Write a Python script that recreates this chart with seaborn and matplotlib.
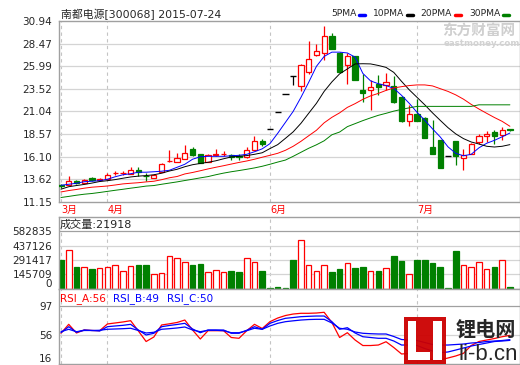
import numpy as np
import pandas as pd
import matplotlib
matplotlib.use("Agg")
import matplotlib.pyplot as plt
import seaborn as sns
from matplotlib.patches import Rectangle
from matplotlib.lines import Line2D

sns.set_style("white")
plt.rcParams["font.family"] = ["DejaVu Sans", "Noto Sans CJK SC"]

# ----------------------------------------------------------------------
# data (read off the daily K-line chart of 300068, Mar 24 - Jul 24 2015)
# ----------------------------------------------------------------------
open_ = [12.95, 12.99, 13.40, 13.21, 13.80, 13.55, 13.61, 14.25, 14.25, 14.23,
         14.67, 14.00, 13.80, 14.41, 15.58, 15.50, 15.83, 16.92, 16.40, 15.50,
         16.25, 16.38, 16.25, 16.20, 16.05, 16.85, 17.82, 19.10, 21.00, 22.95,
         24.87, 23.81, 25.34, 27.24, 27.42, 29.35, 27.46, 26.15, 27.06, 23.42,
         23.42, 24.07, 23.96, 23.78, 22.65, 19.98, 20.79, 20.36, 17.14, 17.87,
         16.20, 17.80, 15.98, 16.42, 17.73, 18.38, 18.75, 18.42, 19.08]
close = [12.85, 13.47, 13.25, 13.58, 13.50, 13.62, 14.12, 14.32, 14.32, 14.59,
         14.38, 13.92, 14.10, 15.33, 15.63, 15.90, 16.49, 16.23, 15.39, 16.23,
         16.32, 16.42, 16.10, 16.05, 16.85, 17.77, 17.45, 19.10, 21.00, 22.95,
         24.87, 26.15, 26.80, 27.61, 29.35, 27.86, 25.34, 27.06, 24.51, 23.09,
         23.70, 23.70, 24.25, 22.06, 19.95, 20.79, 19.98, 18.17, 16.42, 14.89,
         16.20, 16.12, 16.23, 17.51, 18.31, 18.60, 18.38, 18.97, 18.97]
high = [13.10, 13.94, 13.58, 13.69, 13.85, 13.80, 14.30, 14.52, 14.55, 14.96,
        14.90, 14.30, 14.23, 15.35, 16.86, 16.50, 17.33, 17.14, 16.40, 16.35,
        16.88, 16.70, 16.42, 16.35, 17.14, 18.31, 18.05, 19.10, 21.00, 22.95,
        24.87, 26.20, 28.70, 28.37, 30.34, 29.65, 27.50, 27.46, 27.15, 25.09,
        24.43, 25.06, 25.28, 24.87, 22.75, 21.70, 22.43, 20.40, 20.06, 17.90,
        16.20, 17.85, 16.97, 17.55, 18.60, 18.86, 18.97, 19.33, 19.15]
low = [12.60, 12.95, 13.06, 13.15, 13.45, 13.40, 13.58, 14.08, 14.10, 14.20,
       13.98, 13.40, 13.78, 14.38, 15.50, 15.45, 15.80, 16.15, 15.35, 15.45,
       16.15, 16.15, 15.70, 15.72, 15.98, 16.80, 17.22, 19.10, 21.00, 22.95,
       23.89, 23.27, 25.17, 27.15, 26.62, 27.86, 25.30, 24.07, 24.45, 22.06,
       21.23, 22.79, 23.34, 22.00, 19.90, 19.41, 19.95, 18.10, 16.40, 14.85,
       16.20, 15.14, 14.67, 16.40, 17.44, 17.69, 17.44, 17.87, 18.90]
volume = [294000, 391000, 226000, 223000, 197000, 214000, 223000, 243000, 185000, 233000,
          243000, 243000, 155000, 165000, 330000, 311000, 272000, 243000, 253000, 175000,
          194000, 175000, 185000, 175000, 311000, 272000, 185000, 12000, 22000, 12000,
          291000, 492000, 243000, 185000, 243000, 175000, 197000, 262000, 207000, 226000,
          185000, 185000, 214000, 330000, 285000, 152000, 294000, 294000, 265000, 226000,
          12000, 382000, 243000, 223000, 272000, 204000, 226000, 291000, 21918]

ma5 = [12.95, 13.06, 13.17, 13.34, 13.39, 13.45, 13.61, 13.88, 14.10, 14.21,
       14.38, 14.38, 14.43, 14.49, 14.59, 14.92, 15.25, 15.80, 16.07, 16.12,
       16.12, 16.12, 16.18, 16.23, 16.34, 16.62, 16.94, 17.51, 18.64, 19.84,
       21.04, 22.57, 24.22, 25.97, 27.06, 27.53, 27.53, 27.44, 26.98, 25.20,
       24.38, 24.07, 23.87, 23.56, 22.80, 21.92, 20.94, 20.07, 19.13, 18.24,
       17.16, 16.45, 16.18, 16.34, 17.05, 17.55, 17.87, 18.26, 18.67]
ma10 = [12.52, 12.79, 12.92, 13.04, 13.19, 13.36, 13.45, 13.57, 13.72, 13.86,
        13.95, 14.01, 14.10, 14.27, 14.51, 14.70, 14.98, 15.20, 15.34, 15.47,
        15.63, 15.85, 16.05, 16.12, 16.20, 16.34, 16.51, 16.97, 17.40, 18.09,
        18.80, 19.73, 20.83, 21.92, 23.23, 24.27, 25.15, 25.69, 26.24, 26.26,
        26.24, 26.07, 25.86, 25.31, 24.33, 23.40, 22.58, 21.76, 20.88, 20.06,
        19.26, 18.58, 18.06, 17.69, 17.47, 17.22, 17.14, 17.22, 17.40]
ma20 = [12.22, 12.37, 12.49, 12.63, 12.74, 12.80, 12.87, 12.98, 13.10, 13.17,
        13.23, 13.32, 13.39, 13.56, 13.77, 13.91, 14.19, 14.35, 14.54, 14.74,
        14.92, 15.09, 15.27, 15.45, 15.61, 15.80, 16.02, 16.23, 16.45, 16.78,
        17.22, 17.76, 18.37, 18.97, 19.79, 20.39, 20.88, 21.48, 21.89, 22.36,
        22.74, 23.01, 23.34, 23.61, 23.75, 23.87, 23.94, 23.94, 23.83, 23.53,
        23.23, 22.85, 22.38, 21.81, 21.30, 20.83, 20.37, 19.95, 19.41]
ma30 = [11.61, 11.73, 11.86, 11.97, 12.05, 12.16, 12.28, 12.40, 12.51, 12.63,
        12.74, 12.86, 12.92, 13.06, 13.19, 13.32, 13.47, 13.61, 13.76, 13.90,
        14.10, 14.28, 14.43, 14.56, 14.70, 14.85, 15.03, 15.25, 15.49, 15.71,
        16.12, 16.56, 17.00, 17.38, 17.82, 18.48, 18.78, 19.37, 19.70, 20.03,
        20.33, 20.61, 20.83, 21.07, 21.26, 21.43, 21.59, 21.59, 21.59, 21.59,
        21.59, 21.59, 21.59, 21.59, 21.76, 21.76, 21.76, 21.76, 21.76]

rsi_a = [58.9, 71.4, 59.3, 63.5, 62.8, 62.5, 71.9, 73.3, 74.7, 76.5,
         62.1, 47.4, 53.7, 70.5, 72.1, 74.0, 77.4, 63.5, 50.9, 62.5,
         62.5, 62.5, 53.0, 51.9, 62.5, 71.4, 65.6, 75.1, 80.2, 83.7,
         85.8, 86.8, 86.8, 87.2, 88.2, 74.0, 53.0, 59.7, 49.5, 41.8,
         41.8, 42.5, 47.1, 39.0, 30.0, 30.7, 28.6, 24.4, 22.3, 21.6,
         24.4, 27.2, 30.9, 41.8, 47.4, 49.5, 51.6, 54.1, 56.0]
rsi_b = [59.7, 68.1, 60.3, 63.5, 62.8, 62.1, 68.1, 69.1, 70.0, 71.4,
         63.5, 56.5, 58.9, 68.1, 69.8, 71.2, 72.8, 64.9, 59.7, 63.5,
         63.5, 63.5, 58.9, 58.9, 63.1, 68.1, 64.5, 72.8, 76.7, 79.8,
         80.9, 82.1, 82.6, 83.0, 83.0, 75.1, 64.5, 66.7, 59.3, 54.1,
         53.0, 51.9, 51.9, 48.1, 42.5, 42.5, 41.8, 37.6, 34.2, 31.8,
         32.8, 35.5, 38.3, 41.1, 43.2, 45.3, 47.4, 48.1, 49.0]
rsi_c = [61.1, 64.5, 61.1, 62.8, 62.8, 63.1, 64.5, 64.9, 65.3, 65.9,
         62.8, 59.3, 60.3, 64.5, 65.3, 66.3, 67.7, 63.5, 61.1, 63.1,
         63.1, 62.5, 59.7, 59.7, 62.5, 65.9, 64.5, 69.1, 72.8, 75.1,
         76.3, 77.4, 78.1, 78.4, 78.4, 73.3, 65.9, 64.5, 60.7, 58.9,
         58.3, 57.9, 57.9, 54.4, 50.2, 49.5, 48.8, 46.0, 43.2, 42.5,
         42.5, 43.2, 43.9, 45.3, 46.0, 47.4, 48.1, 48.8, 50.0]

month_pos = [0, 6, 27, 46]
month_labels = ["3月", "4月", "6月", "7月"]
price_ticks = [11.15, 13.62, 16.10, 18.57, 21.04, 23.52, 25.99, 28.47, 30.94]
vol_ticks = [0, 145709, 291417, 437126, 582835]
rsi_ticks = [16, 56, 97]

RED, GREEN, BLUE = "#ff0000", "#008000", "#0000ff"
FRAME, GRID = "#a0a0a0", "#d4d4d4"
W, H = 520, 365


def fx(px):
    return px / W


def fy(py):
    return 1 - py / H


# ----------------------------------------------------------------------
# layout: three stacked panels
# ----------------------------------------------------------------------
fig = plt.figure(figsize=(5.2, 3.65), dpi=100)
ax_p = fig.add_axes([fx(58.5), fy(201.7), 461 / W, 180.7 / H])
ax_v = fig.add_axes([fx(58.5), fy(289), 461 / W, 72.3 / H])
ax_r = fig.add_axes([fx(58.5), fy(364), 461 / W, 75 / H])

idx = np.arange(len(open_))
o = np.array(open_)
c = np.array(close)
hi = np.array(high)
lo = np.array(low)
up = c > o
dn = c < o
flat = c == o

for ax in (ax_p, ax_v, ax_r):
    ax.set_xlim(-0.32, 59.24)
    for s in ax.spines.values():
        s.set_color(FRAME)
        s.set_linewidth(1)
    ax.tick_params(axis="y", length=3, color=FRAME, labelsize=7.5, pad=1.5)
    for m in month_pos:
        ax.axvline(m, color="#c4c4c4", ls=(0, (3, 3)), lw=0.8, zorder=0)

# ---- price panel ----
ax_p.set_ylim(11.15, 30.94)
ax_p.set_yticks(price_ticks, [f"{t:.2f}" for t in price_ticks])
for t in price_ticks[1:-1]:
    ax_p.axhline(t, color=GRID, lw=0.9, zorder=0)

wick_col = np.where(up, RED, np.where(dn, GREEN, "black"))
ax_p.vlines(idx, lo, hi, colors=wick_col, lw=0.9, zorder=2)
ax_p.bar(idx[up], (c - o)[up], bottom=o[up], width=0.68,
         facecolor="white", edgecolor=RED, lw=0.9, zorder=3)
ax_p.bar(idx[dn], (c - o)[dn], bottom=o[dn], width=0.68,
         facecolor=GREEN, edgecolor=GREEN, lw=0.9, zorder=3)
ax_p.hlines(c[flat], idx[flat] - 0.4, idx[flat] + 0.4, colors="black", lw=1.0, zorder=3)

ma_df = pd.DataFrame({"idx": idx, "5PMA": ma5, "10PMA": ma10,
                      "20PMA": ma20, "30PMA": ma30}).melt("idx", var_name="ma", value_name="price")
ma_colors = {"5PMA": BLUE, "10PMA": "black", "20PMA": RED, "30PMA": GREEN}
sns.lineplot(data=ma_df, x="idx", y="price", hue="ma", palette=ma_colors,
             lw=0.7, legend=False, ax=ax_p, zorder=4)
ax_p.set_xlabel("")
ax_p.set_ylabel("")
ax_p.set_xticks(month_pos, month_labels)
ax_p.tick_params(axis="x", length=0, pad=2, labelsize=7, labelcolor=RED)
for lab in ax_p.get_xticklabels():
    lab.set_ha("left")

# ---- volume panel ----
ax_v.set_ylim(0, 582835 * 72.3 / 58)
ax_v.set_yticks(vol_ticks, [str(t) for t in vol_ticks])
ax_v.set_xticks([])
ax_v.get_yticklabels()[0].set_va("bottom")
for t in vol_ticks[1:]:
    ax_v.axhline(t, color=GRID if t < 582835 else FRAME, lw=0.9, zorder=0)
vol = np.array(volume)
ax_v.bar(idx[up], vol[up], width=0.72, facecolor="white", edgecolor=RED, lw=0.9, zorder=2)
ax_v.bar(idx[~up], vol[~up], width=0.72, facecolor=GREEN, edgecolor=GREEN, lw=0.9, zorder=2)

# ---- RSI panel ----
ax_r.set_ylim(16, 97 + 17 * 81 / 58)
ax_r.set_yticks(rsi_ticks, [str(t) for t in rsi_ticks])
ax_r.set_xticks([])
ax_r.get_yticklabels()[0].set_va("bottom")
ax_r.axhline(56, color=GRID, lw=0.9, zorder=0)
ax_r.axhline(97, color=FRAME, lw=0.9, zorder=0)
rsi_df = pd.DataFrame({"idx": idx, "A": rsi_a, "B": rsi_b, "C": rsi_c}).melt(
    "idx", var_name="rsi", value_name="val")
sns.lineplot(data=rsi_df, x="idx", y="val", hue="rsi",
             palette={"A": RED, "B": BLUE, "C": BLUE}, lw=0.9, legend=False, ax=ax_r)
ax_r.set_xlabel("")
ax_r.set_ylabel("")

# ----------------------------------------------------------------------
# header texts and legend
# ----------------------------------------------------------------------
fig.text(fx(61), fy(14), "南都电源[300068] 2015-07-24", fontsize=7.8, va="center")
legend_items = [("5PMA", 331, 359, BLUE), ("10PMA", 373, 407, "black"),
                ("20PMA", 420, 455, RED), ("30PMA", 469, 503, GREEN)]
for name, tx, mx, col in legend_items:
    fig.text(fx(tx), fy(14), name, fontsize=6.6, va="center")
    fig.add_artist(Line2D([fx(mx), fx(mx + 6)], [fy(15), fy(15)], lw=2.5,
                          color=col, transform=fig.transFigure))

fig.text(fx(60), fy(225), "成交量:21918", fontsize=8, va="center")
fig.text(fx(60), fy(299), "RSI_A:56", fontsize=7.5, va="center", color=RED)
fig.text(fx(113), fy(299), "RSI_B:49", fontsize=7.5, va="center", color=BLUE)
fig.text(fx(167), fy(299), "RSI_C:50", fontsize=7.5, va="center", color=BLUE)

# watermarks
fig.text(fx(442), fy(31), "东方财富网", fontsize=10.5, fontweight="bold",
         color="#cfcfcf", va="center")
fig.text(fx(444), fy(43), "eastmoney.com", fontsize=6.2, fontweight="bold",
         color="#d2d2d2", va="center")

fig.add_artist(Rectangle((fx(404), fy(364)), 42 / W, 47 / H, facecolor="#cc0000",
                         edgecolor="none", transform=fig.transFigure, alpha=0.95))
for x0, y0, w, h in [(408, 360, 8, 39), (408, 360, 22, 8), (433, 360, 9, 39)]:
    fig.add_artist(Rectangle((fx(x0), fy(y0)), w / W, h / H, facecolor="white",
                             edgecolor="none", transform=fig.transFigure))
fig.text(fx(456), fy(329), "锂电网", fontsize=14.5, fontweight="bold", va="center",
         family=["Noto Sans CJK SC"])
fig.text(fx(459), fy(354), "li-b.cn", fontsize=16, va="center",
         family=["Liberation Sans"])

fig.savefig("out.png", dpi=100)
